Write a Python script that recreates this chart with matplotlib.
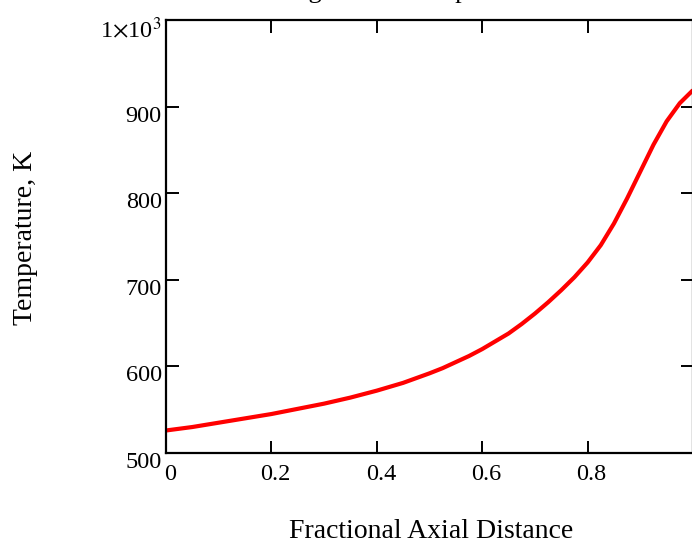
import matplotlib
matplotlib.use("Agg")
import matplotlib.pyplot as plt
import matplotlib.transforms as mtransforms

plt.rcParams['font.family'] = ['Liberation Serif', 'DejaVu Serif']
plt.rcParams['mathtext.fontset'] = 'stix'

# Data
distance = [0.0, 0.05, 0.1, 0.15, 0.2, 0.25, 0.3, 0.35, 0.4, 0.45, 0.5, 0.525,
            0.55, 0.575, 0.6, 0.625, 0.65, 0.675, 0.7, 0.725, 0.75, 0.775,
            0.8, 0.825, 0.85, 0.875, 0.9, 0.925, 0.95, 0.975, 1.0]
temperature = [526, 530, 535, 540, 545, 551, 557, 564, 572, 581, 592, 598,
               605, 612, 620, 629, 638, 649, 661, 674, 688, 703,
               720, 740, 765, 794, 825, 856, 883, 904, 919]
x_ticks = [0, 0.2, 0.4, 0.6, 0.8, 1.0]
x_tick_labels = ["0", "0.2", "0.4", "0.6", "0.8", ""]
y_ticks = [500, 600, 700, 800, 900, 1000]
y_tick_labels = ["500", "600", "700", "800", "900", r"1$\times$10$^{3}$"]
title = "Longitudinal Temperature Profile"
xlabel = "Fractional Axial Distance"
ylabel = "Temperature, K"

W, H = 692, 548
fig = plt.figure(figsize=(W / 100, H / 100), dpi=100)
left, right, top, bottom = 166, 693, 20, 453
ax = fig.add_axes([left / W, 1 - bottom / H, (right - left) / W, (bottom - top) / H])

ax.plot(distance, temperature, color='#ff0000', lw=3.0, solid_capstyle='butt',
        solid_joinstyle='round')
ax.set_xlim(0, 1)
ax.set_ylim(500, 1000)

ax.set_xticks(x_ticks)
ax.set_xticklabels(x_tick_labels)
ax.set_yticks(y_ticks)
ax.set_yticklabels(y_tick_labels)

ax.tick_params(direction='in', length=9, width=1.4, top=True, right=True,
               labelsize=17.5, colors='black')
ax.tick_params(axis='x', pad=8)
ax.tick_params(axis='y', pad=3)
for s in ax.spines.values():
    s.set_linewidth(1.6)
    s.set_color('black')

# shift tick labels like the reference
dx = mtransforms.ScaledTranslation(4 / 100, 0, fig.dpi_scale_trans)
for lab in ax.get_xticklabels():
    lab.set_transform(lab.get_transform() + dx)
dy = mtransforms.ScaledTranslation(0, -7 / 100, fig.dpi_scale_trans)
for lab in ax.get_yticklabels():
    lab.set_transform(lab.get_transform() + dy)

fig.text(431 / W, 1 - 531 / H, xlabel, fontsize=20, ha='center', va='center')
fig.text(25 / W, 1 - 238 / H, ylabel, fontsize=20, ha='center', va='center',
         rotation=90)
fig.text(443 / W, 1 + 2 / H, title, fontsize=19, ha='center', va='baseline')

fig.savefig("out.png", dpi=100)
